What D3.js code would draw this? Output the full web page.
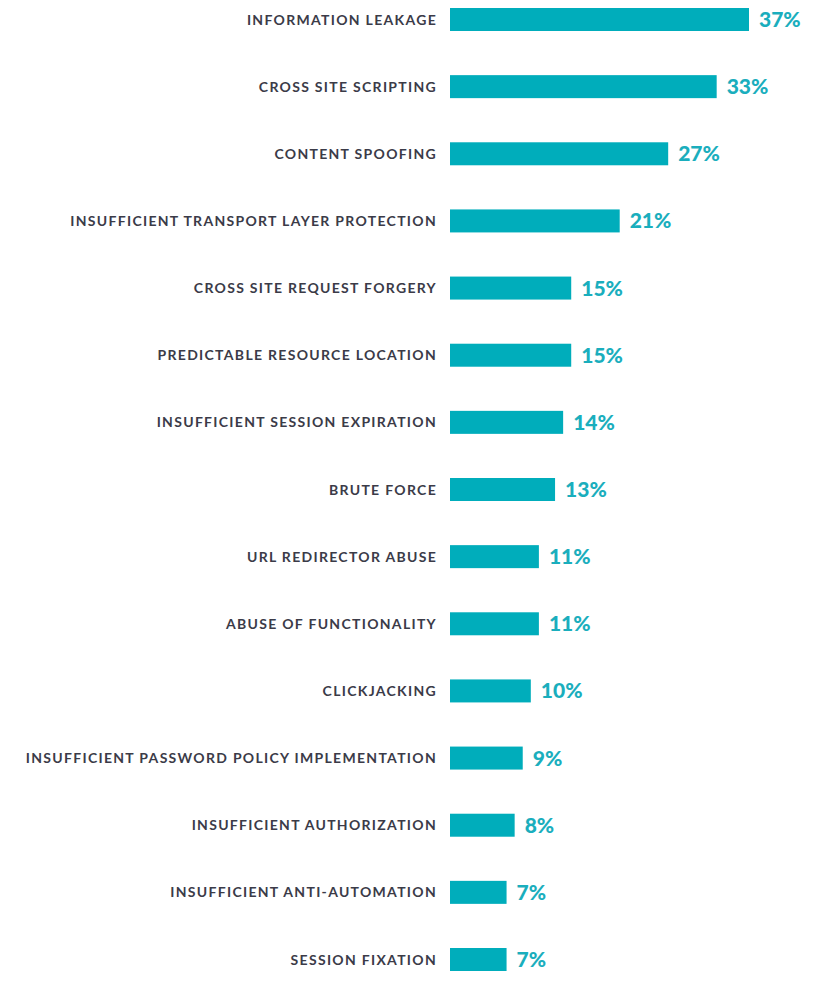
<!DOCTYPE html>
<html><head><meta charset="utf-8">
<script src="https://cdn.jsdelivr.net/npm/d3@7"></script>
<style>body{margin:0;background:#fff}svg{display:block}</style>
</head><body>
<script>
const categories = ["INFORMATION LEAKAGE","CROSS SITE SCRIPTING","CONTENT SPOOFING","INSUFFICIENT TRANSPORT LAYER PROTECTION","CROSS SITE REQUEST FORGERY","PREDICTABLE RESOURCE LOCATION","INSUFFICIENT SESSION EXPIRATION","BRUTE FORCE","URL REDIRECTOR ABUSE","ABUSE OF FUNCTIONALITY","CLICKJACKING","INSUFFICIENT PASSWORD POLICY IMPLEMENTATION","INSUFFICIENT AUTHORIZATION","INSUFFICIENT ANTI-AUTOMATION","SESSION FIXATION"];
const values = [37,33,27,21,15,15,14,13,11,11,10,9,8,7,7];

const W=818,H=999;
const svg=d3.select("body").append("svg").attr("width",W).attr("height",H);
const x=d3.scaleLinear().domain([0,37]).range([450,749]);
const y=d3.scalePoint().domain(categories).range([19.5,959.5]);
const bh=23;
const data=categories.map((c,i)=>({c,v:values[i]}));
const g=svg.append("g");
g.selectAll("rect").data(data).join("rect")
 .attr("x",x(0)).attr("y",d=>y(d.c)-bh/2).attr("width",d=>x(d.v)-x(0)).attr("height",bh)
 .attr("fill","#00adbb");
g.selectAll("text.lab").data(data).join("text").attr("class","lab")
 .attr("x",437).attr("y",d=>y(d.c)).attr("dy","0.36em").attr("text-anchor","end")
 .attr("font-family","Lato, 'Open Sans', sans-serif").attr("font-weight","bold")
 .attr("font-size",14).attr("letter-spacing","1.3px").attr("fill","#3b3b48")
 .text(d=>d.c);
g.selectAll("text.val").data(data).join("text").attr("class","val")
 .attr("x",d=>x(d.v)+10).attr("y",d=>y(d.c)).attr("dy","0.36em")
 .attr("font-family","Lato, 'Open Sans', sans-serif").attr("font-weight","900")
 .attr("font-size",21).attr("fill","#1aaebd")
 .text(d=>d.v+"%");
</script>
</body></html>
